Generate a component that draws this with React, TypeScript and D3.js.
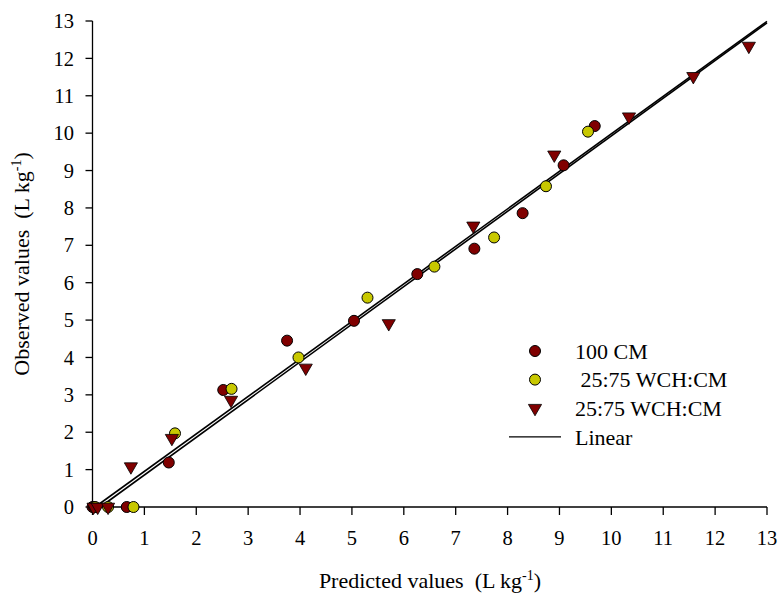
import React from "react";
import * as d3 from "d3";

const xTicks = [0,1,2,3,4,5,6,7,8,9,10,11,12,13];
const yTicks = [0,1,2,3,4,5,6,7,8,9,10,11,12,13];

const cm100X = [0, 0.03, 0.66, 1.47, 2.52, 3.75, 5.04, 6.26, 7.36, 8.29, 9.08, 9.68];
const cm100Y = [0, 0, 0, 1.19, 3.13, 4.45, 4.98, 6.23, 6.91, 7.86, 9.14, 10.19];

const wchAX = [0.05, 0.3, 0.79, 1.59, 2.68, 3.97, 5.30, 6.59, 7.74, 8.74, 9.55];
const wchAY = [0, 0, 0, 1.97, 3.16, 4.00, 5.60, 6.43, 7.21, 8.58, 10.04];

const wchBX = [0.02, 0.1, 0.3, 0.74, 1.53, 2.67, 4.11, 5.71, 7.34, 8.90, 10.34, 11.58, 12.65];
const wchBY = [0, 0, 0, 1.08, 1.84, 2.86, 3.72, 4.91, 7.52, 9.42, 10.44, 11.52, 12.33];

const linearA = [[0.05, 0], [13, 12.99]];
const linearB = [[0.15, 0], [13, 12.95]];

const legendLabels = ["100 CM", "\u00a025:75 WCH:CM", "25:75 WCH:CM", "Linear"];

const RED = "#800000";
const YELLOW = "#c8c800";
const FONT = "'Liberation Serif', 'Times New Roman', serif";

export default function App() {
  const W = 779, H = 594;
  const x = d3.scaleLinear().domain([0, 13]).range([92.5, 767]);
  const y = d3.scaleLinear().domain([0, 13]).range([507, 21]);
  const line = d3.line<number[]>().x(d => x(d[0])).y(d => y(d[1]));
  const tri = d3.symbol().type(d3.symbolTriangle).size(75)();
  const ts: React.CSSProperties = { fontFamily: FONT, whiteSpace: "pre" };

  const circles = (xs: number[], ys: number[], fill: string) =>
    xs.map((v, i) => (
      <circle key={i} cx={x(v)} cy={y(ys[i])} r={5.5} fill={fill} stroke="#000" strokeWidth={1} />
    ));
  const triangles = (xs: number[], ys: number[]) =>
    xs.map((v, i) => (
      <path key={i} d={tri as string} transform={`translate(${x(v)},${y(ys[i])}) rotate(180)`} fill={RED} stroke="#000" strokeWidth={0.8} />
    ));

  const legX = 535, legY0 = 351, legDy = 28.6;

  return (
    <svg width={W} height={H} style={{ position: "absolute", left: 0, top: 0, fontFamily: FONT }}>
      <rect width={W} height={H} fill="#fff" />
      <line x1={x(0)} x2={x(0)} y1={y(0)} y2={y(13)} stroke="#000" strokeWidth={1.3} />
      <line x1={x(0)} x2={x(13)} y1={y(0)} y2={y(0)} stroke="#000" strokeWidth={1.3} />
      {yTicks.map(t => (
        <g key={"y" + t}>
          <line x1={x(0) - 7} x2={x(0)} y1={y(t)} y2={y(t)} stroke="#000" strokeWidth={1.3} />
          <text x={74} y={y(t)} dy="0.35em" textAnchor="end" fontSize={20.5} style={ts}>{t}</text>
        </g>
      ))}
      {xTicks.map(t => (
        <g key={"x" + t}>
          <line x1={x(t)} x2={x(t)} y1={y(0)} y2={y(0) + 8} stroke="#000" strokeWidth={1.3} />
          <text x={x(t)} y={538} dy="0.35em" textAnchor="middle" fontSize={20.5} style={ts}>{t}</text>
        </g>
      ))}
      <text x={430} y={588} textAnchor="middle" fontSize={22} style={ts}>
        {"Predicted values  (L kg"}<tspan dy={-8} fontSize={14}>-1</tspan><tspan dy={8}>)</tspan>
      </text>
      <text transform={`translate(29,264) rotate(-90)`} textAnchor="middle" fontSize={22} style={ts}>
        {"Observed values  (L kg"}<tspan dy={-8} fontSize={14}>-1</tspan><tspan dy={8}>)</tspan>
      </text>
      <path d={line(linearA as any) || ""} fill="none" stroke="#000" strokeWidth={1.6} />
      <path d={line(linearB as any) || ""} fill="none" stroke="#000" strokeWidth={1.6} />
      {circles(cm100X, cm100Y, RED)}
      {circles(wchAX, wchAY, YELLOW)}
      {triangles(wchBX, wchBY)}
      <circle cx={legX} cy={legY0} r={5.5} fill={RED} stroke="#000" />
      <circle cx={legX} cy={legY0 + legDy} r={5.5} fill={YELLOW} stroke="#000" />
      <path d={tri as string} transform={`translate(${legX},${legY0 + 2 * legDy}) rotate(180)`} fill={RED} stroke="#000" strokeWidth={0.8} />
      <line x1={509} x2={561} y1={legY0 + 3 * legDy} y2={legY0 + 3 * legDy} stroke="#000" strokeWidth={1.3} />
      {legendLabels.map((l, i) => (
        <text key={l + i} x={575} y={legY0 + i * legDy} dy="0.35em" fontSize={22} style={ts}>{l}</text>
      ))}
    </svg>
  );
}
